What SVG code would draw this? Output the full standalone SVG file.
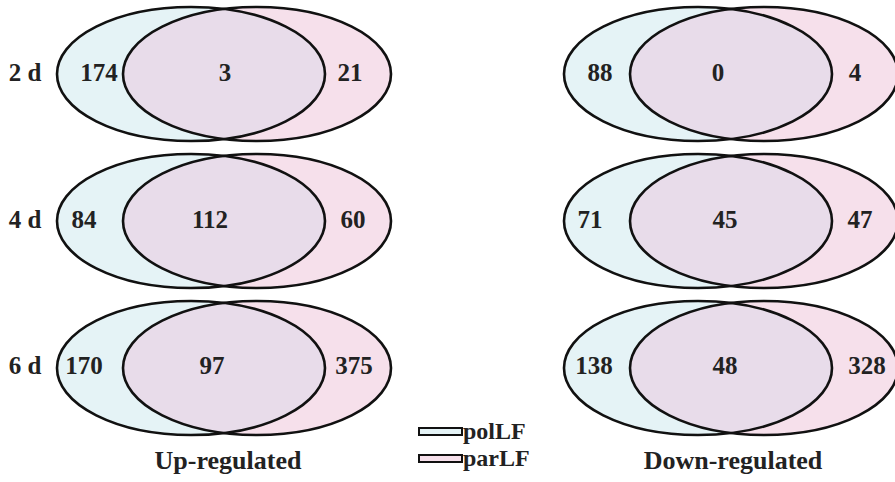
<svg xmlns="http://www.w3.org/2000/svg" width="895" height="482" viewBox="0 0 895 482">
<style>
.a{fill:#e5f3f6}
.b{fill:#f6e0eb}
.c{fill:#e8dcea}
.o{fill:none;stroke:#111;stroke-width:2.6}
text{font-family:"Liberation Serif","Times New Roman",serif;font-weight:bold;fill:#222;font-size:25px;text-anchor:middle}
.cap{font-size:26px}
.lg{font-size:24px;text-anchor:start}
</style>
<defs>
<ellipse id="L" cx="0" cy="0" rx="134" ry="67"/>
<ellipse id="R" cx="66" cy="0" rx="134" ry="67"/>
<clipPath id="cl"><use href="#L"/></clipPath>
<g id="venn">
<use href="#L" class="a"/>
<use href="#R" class="b"/>
<use href="#R" class="c" clip-path="url(#cl)"/>
<use href="#L" class="o"/>
<use href="#R" class="o"/>
</g>
</defs>
<g id="up-2d">
<use href="#venn" x="191" y="74"/>
<text x="25" y="81">2 d</text>
<text x="99" y="81">174</text>
<text x="225" y="81">3</text>
<text x="350" y="81">21</text>
</g>
<g id="up-4d">
<use href="#venn" x="191" y="221"/>
<text x="25" y="228">4 d</text>
<text x="84" y="228">84</text>
<text x="210" y="228">112</text>
<text x="353" y="228">60</text>
</g>
<g id="up-6d">
<use href="#venn" x="191" y="368"/>
<text x="25" y="374">6 d</text>
<text x="84" y="374">170</text>
<text x="212" y="374">97</text>
<text x="354" y="374">375</text>
</g>
<g id="down-2d">
<use href="#venn" x="698" y="74"/>
<text x="600" y="81">88</text>
<text x="718" y="81">0</text>
<text x="855" y="81">4</text>
</g>
<g id="down-4d">
<use href="#venn" x="698" y="221"/>
<text x="590" y="228">71</text>
<text x="725" y="228">45</text>
<text x="860" y="228">47</text>
</g>
<g id="down-6d">
<use href="#venn" x="698" y="368"/>
<text x="594" y="374">138</text>
<text x="725" y="374">48</text>
<text x="867" y="374">328</text>
</g>
<g id="legend">
<rect x="419" y="428" width="43" height="7" class="a" stroke="#111" stroke-width="2"/>
<rect x="419" y="455" width="43" height="7" class="b" stroke="#111" stroke-width="2"/>
<text class="lg" x="463" y="439">polLF</text>
<text class="lg" x="463" y="466">parLF</text>
</g>
<text class="cap" x="228" y="469">Up-regulated</text>
<text class="cap" x="733" y="469">Down-regulated</text>
</svg>
